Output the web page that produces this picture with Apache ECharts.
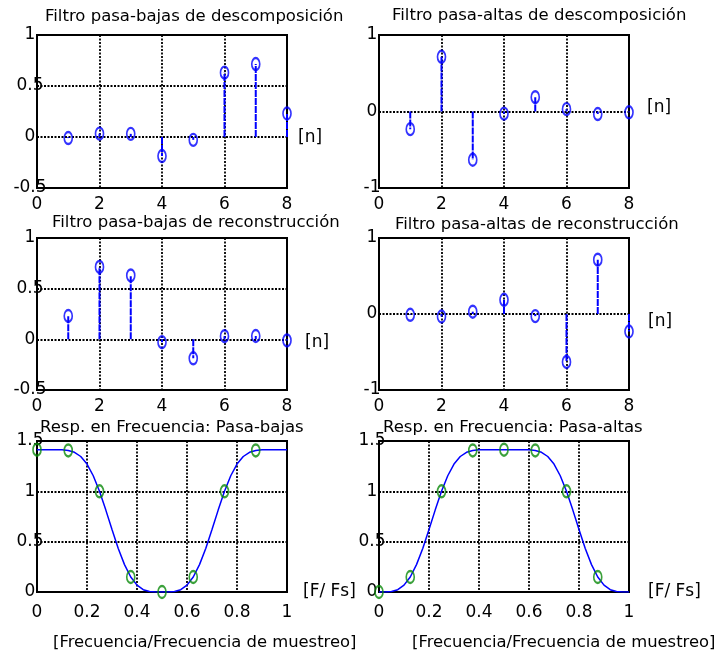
<!DOCTYPE html>
<html>
<head>
<meta charset="utf-8">
<script src="https://cdn.jsdelivr.net/npm/echarts@6/dist/echarts.min.js"></script>
<style>
  html, body { margin: 0; padding: 0; background: #ffffff; }
  #chart { width: 722px; height: 658px; }
</style>
</head>
<body>
<div id="chart"></div>
<script>
// Daubechies (db4) filter bank: sample index and the four filters
const nIndex = [1, 2, 3, 4, 5, 6, 7, 8];
const loDec = [-0.0106, 0.0329, 0.0308, -0.1870, -0.0280, 0.6309, 0.7148, 0.2304];
const hiDec = [-0.2304, 0.7148, -0.6309, -0.0280, 0.1870, 0.0308, -0.0329, -0.0106];
const loRec = [0.2304, 0.7148, 0.6309, -0.0280, -0.1870, 0.0308, 0.0329, -0.0106];
const hiRec = [-0.0106, -0.0329, 0.0308, 0.1870, -0.0280, -0.6309, 0.7148, -0.2304];

// Magnitude responses against normalised frequency F/Fs
const freq = [0, 0.025, 0.05, 0.075, 0.1, 0.125, 0.15, 0.175, 0.2, 0.225,
              0.25, 0.275, 0.3, 0.325, 0.35, 0.375, 0.4, 0.425, 0.45, 0.475,
              0.5, 0.525, 0.55, 0.575, 0.6, 0.625, 0.65, 0.675, 0.7, 0.725,
              0.75, 0.775, 0.8, 0.825, 0.85, 0.875, 0.9, 0.925, 0.95, 0.975, 1];
const lowMag = [1.414, 1.414, 1.414, 1.414, 1.413, 1.406, 1.388, 1.346, 1.271, 1.155,
                1.000, 0.816, 0.620, 0.433, 0.272, 0.149, 0.068, 0.023, 0.005, 0.000,
                0.000, 0.000, 0.005, 0.023, 0.068, 0.149, 0.272, 0.433, 0.620, 0.816,
                1.000, 1.155, 1.271, 1.346, 1.388, 1.406, 1.413, 1.414, 1.414, 1.414, 1.414];
const highMag = [0.000, 0.000, 0.005, 0.023, 0.068, 0.149, 0.272, 0.433, 0.620, 0.816,
                 1.000, 1.155, 1.271, 1.346, 1.388, 1.406, 1.413, 1.414, 1.414, 1.414,
                 1.414, 1.414, 1.414, 1.414, 1.413, 1.406, 1.388, 1.346, 1.271, 1.155,
                 1.000, 0.816, 0.620, 0.433, 0.272, 0.149, 0.068, 0.023, 0.005, 0.000, 0.000];

// 8-point DFT bins marked on the responses
const binFreq = [0, 0.125, 0.25, 0.375, 0.5, 0.625, 0.75, 0.875];
const lowBins = [1.414, 1.406, 1.000, 0.149, 0.000, 0.149, 1.000, 1.406];
const highBins = [0.000, 0.149, 1.000, 1.406, 1.414, 1.406, 1.000, 0.149];

const titles = [
  'Filtro pasa-bajas de descomposición',
  'Filtro pasa-altas de descomposición',
  'Filtro pasa-bajas de reconstrucción',
  'Filtro pasa-altas de reconstrucción',
  'Resp. en Frecuencia: Pasa-bajas',
  'Resp. en Frecuencia: Pasa-altas'
];

const FONT = 'DejaVu Sans';
const INK = '#000';
const BLUE = '#0000ff';
const GREEN = '#0a8a0a';
const ELLIPSE = 'path://M0,10A10,10,0,1,1,20,10A10,10,0,1,1,0,10Z';

const zip = (xs, ys) => xs.map((x, i) => [x, ys[i]]);

// panel boxes (pixels)
const boxes = [
  { left: 37,  top: 35,  width: 250, height: 153 },
  { left: 379, top: 35,  width: 250, height: 153 },
  { left: 37,  top: 238, width: 250, height: 152 },
  { left: 379, top: 238, width: 250, height: 152 },
  { left: 37,  top: 441, width: 250, height: 151 },
  { left: 379, top: 441, width: 250, height: 151 }
];

const grid = boxes.map(b => ({
  left: b.left, top: b.top, width: b.width, height: b.height,
  show: true, borderColor: '#000', borderWidth: 2, backgroundColor: 'transparent'
}));

const splitStyle = { show: true, lineStyle: { color: '#000', type: [2, 1.5], width: 1.8 } };
const labelStyle = { color: INK, fontFamily: FONT, fontSize: 17 };

function xAxisFor(i, min, max, interval, margin) {
  return {
    type: 'value', gridIndex: i, min, max, interval,
    axisLine: { show: false }, axisTick: { show: false },
    splitLine: splitStyle,
    axisLabel: Object.assign({ margin }, labelStyle)
  };
}
function yAxisFor(i, min, max, interval) {
  return {
    type: 'value', gridIndex: i, min, max, interval,
    axisLine: { show: false }, axisTick: { show: false },
    splitLine: splitStyle,
    axisLabel: Object.assign({ margin: 7, align: 'center' }, labelStyle)
  };
}

const xAxis = [
  xAxisFor(0, 0, 8, 2, 8), xAxisFor(1, 0, 8, 2, 8),
  xAxisFor(2, 0, 8, 2, 8), xAxisFor(3, 0, 8, 2, 8),
  xAxisFor(4, 0, 1, 0.2, 12), xAxisFor(5, 0, 1, 0.2, 12)
];
const yAxis = [
  yAxisFor(0, -0.5, 1, 0.5), yAxisFor(1, -1, 1, 1),
  yAxisFor(2, -0.5, 1, 0.5), yAxisFor(3, -1, 1, 1),
  yAxisFor(4, 0, 1.5, 0.5), yAxisFor(5, 0, 1.5, 0.5)
];

// stem plot: vertical line from zero to each sample, open marker on top
function stemSeries(i, values) {
  const data = zip(nIndex, values);
  return [
    {
      type: 'custom', xAxisIndex: i, yAxisIndex: i, data, z: 3,
      renderItem(params, api) {
        const base = api.coord([api.value(0), 0]);
        const tip = api.coord([api.value(0), api.value(1)]);
        return {
          type: 'line',
          shape: { x1: base[0], y1: base[1], x2: tip[0], y2: tip[1] },
          style: { stroke: BLUE, lineWidth: 2, lineDash: [7, 1] }
        };
      }
    },
    {
      type: 'scatter', xAxisIndex: i, yAxisIndex: i, data, z: 4,
      symbol: ELLIPSE, symbolSize: [8, 12],
      itemStyle: { color: 'rgba(0,0,0,0)', borderColor: BLUE, borderWidth: 2 },
      emphasis: { disabled: true }
    }
  ];
}

function responseSeries(i, mags, bins) {
  return [
    {
      type: 'line', xAxisIndex: i, yAxisIndex: i, data: zip(freq, mags), z: 3,
      showSymbol: false, lineStyle: { color: BLUE, width: 1.5 }
    },
    {
      type: 'scatter', xAxisIndex: i, yAxisIndex: i, data: zip(binFreq, bins), z: 4,
      symbol: ELLIPSE, symbolSize: [8, 12],
      itemStyle: { color: 'rgba(0,0,0,0)', borderColor: GREEN, borderWidth: 2 },
      emphasis: { disabled: true }
    }
  ];
}

const series = [].concat(
  stemSeries(0, loDec), stemSeries(1, hiDec),
  stemSeries(2, loRec), stemSeries(3, hiRec),
  responseSeries(4, lowMag, lowBins), responseSeries(5, highMag, highBins)
);

const titlePos = [
  { left: 45, top: 8 }, { left: 392, top: 7 },
  { left: 52, top: 214 }, { left: 395, top: 216 },
  { left: 40, top: 419 }, { left: 383, top: 419 }
];
const title = titles.map((t, i) => ({
  text: t, left: titlePos[i].left, top: titlePos[i].top, padding: 0,
  textStyle: { color: INK, fontFamily: FONT, fontSize: 16.5, fontWeight: 'normal' }
}));

const txt = (text, x, y, size) => ({
  type: 'text', x, y,
  style: { text, fill: INK, font: size + 'px "' + FONT + '"', textVerticalAlign: 'middle' }
});
const graphic = [
  txt('[n]', 298, 138, 17), txt('[n]', 647, 108, 17),
  txt('[n]', 305, 343, 17), txt('[n]', 648, 322, 17),
  txt('[F/ Fs]', 303, 592, 17), txt('[F/ Fs]', 648, 592, 17),
  txt('[Frecuencia/Frecuencia de muestreo]', 53, 643, 16.4),
  txt('[Frecuencia/Frecuencia de muestreo]', 412, 643, 16.4)
];

const chart = echarts.init(document.getElementById('chart'), null, { renderer: 'canvas' });
chart.setOption({
  animation: false,
  backgroundColor: '#ffffff',
  title, grid, xAxis, yAxis, series, graphic
});
</script>
</body>
</html>
